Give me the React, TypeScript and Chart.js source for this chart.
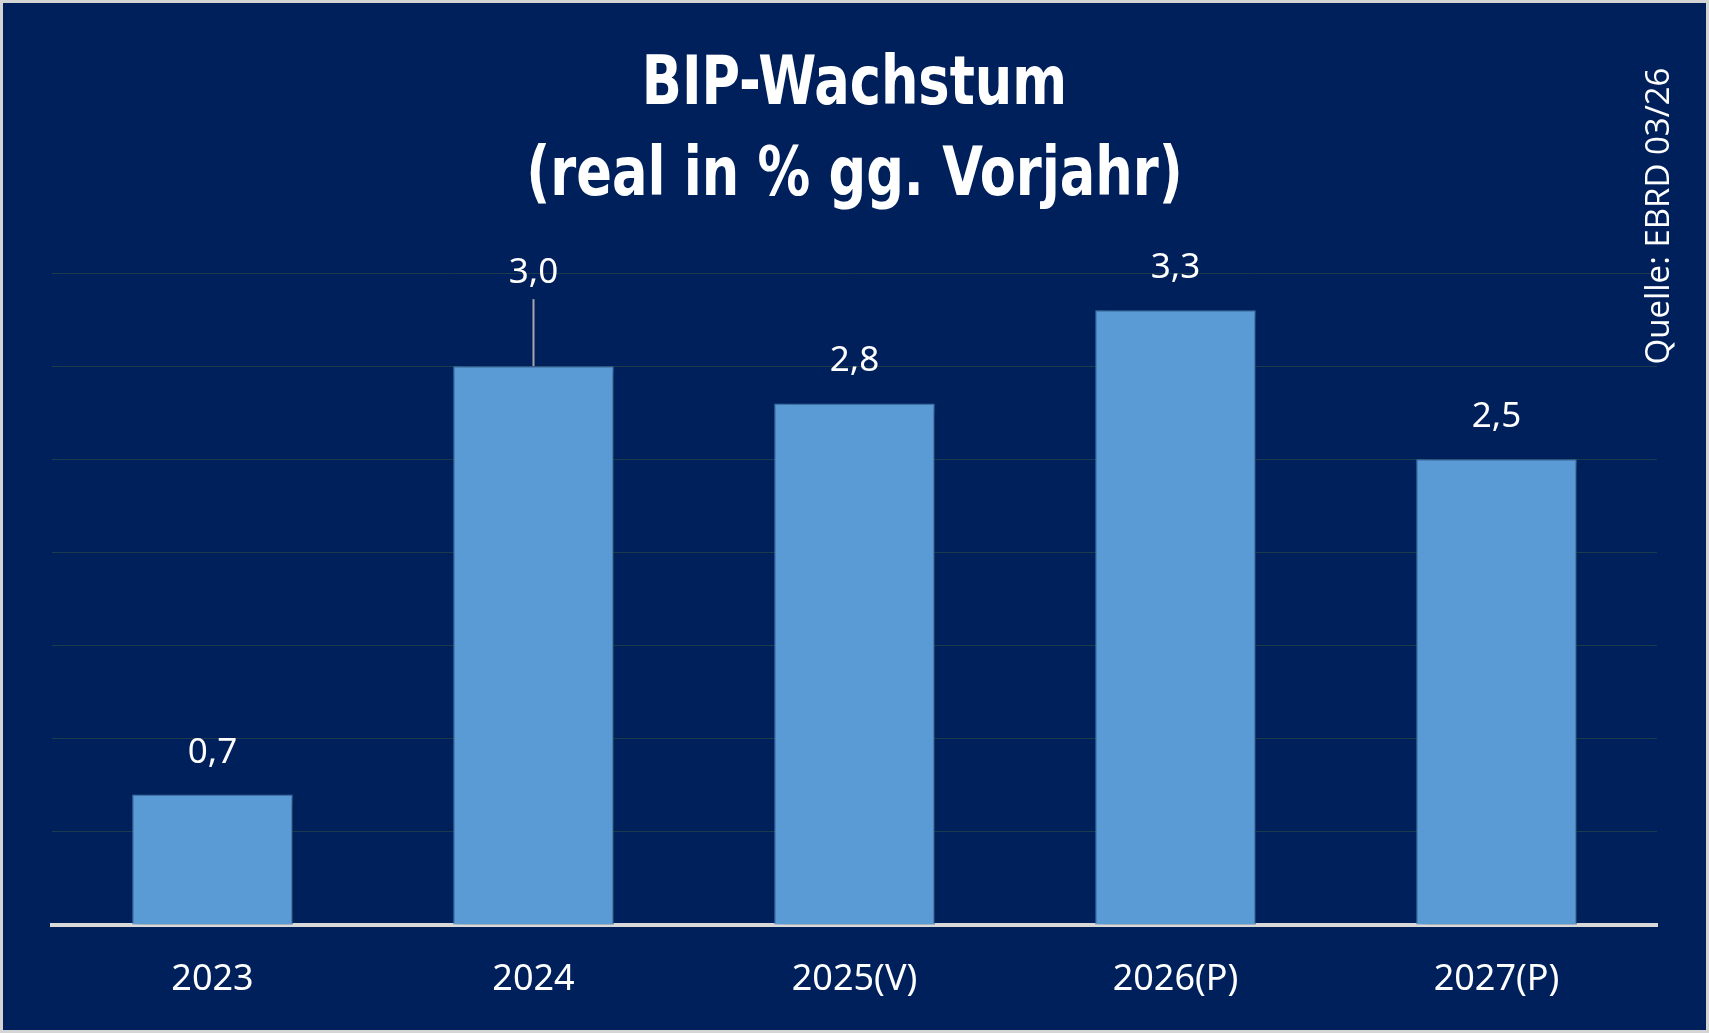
import React, { useEffect, useRef } from "react";
import { Chart, registerables } from "chart.js";

Chart.register(...registerables);

// ---- data ----
const categories = ["2023", "2024", "2025(V)", "2026(P)", "2027(P)"];
const growth = [0.7, 3.0, 2.8, 3.3, 2.5];
const titleLines = ["BIP-Wachstum", "(real in % gg. Vorjahr)"];
const sourceNote = "Quelle: EBRD 03/26";
const yMin = 0;
const yMax = 3.5;
const yStep = 0.5;

// ---- style ----
const W = 1709;
const H = 1033;
const BG = "#00205C";
const BAR = "#5B9BD5";
const GRID = "#1b3a4c";
const BASE = "#D9D9D9";
const LEADER_INDEX = 1;

const fmt = (v: number) => v.toFixed(1).replace(".", ",");

const decorPlugin = {
  id: "decor",
  beforeDraw(chart: any) {
    const ctx = chart.ctx;
    ctx.save();
    ctx.fillStyle = BG;
    ctx.fillRect(0, 0, W, H);
    ctx.restore();
  },
  beforeDatasetsDraw(chart: any) {
    const ctx = chart.ctx;
    ctx.save();
    ctx.shadowColor = "rgba(0,0,0,0.5)";
    ctx.shadowBlur = 12;
    ctx.shadowOffsetX = 5;
    ctx.shadowOffsetY = 2;
  },
  afterDatasetsDraw(chart: any) {
    const ctx = chart.ctx;
    ctx.restore();
    // value labels
    const meta = chart.getDatasetMeta(0);
    ctx.save();
    ctx.fillStyle = "#FFFFFF";
    ctx.font = "35px 'Noto Sans'";
    ctx.textAlign = "center";
    ctx.textBaseline = "middle";
    meta.data.forEach((bar: any, i: number) => {
      const v = growth[i];
      if (i === LEADER_INDEX) {
        ctx.fillText(fmt(v), bar.x, bar.y - 93);
        ctx.strokeStyle = "#A6A6A6";
        ctx.lineWidth = 2;
        ctx.beginPath();
        ctx.moveTo(bar.x, bar.y - 67);
        ctx.lineTo(bar.x, bar.y);
        ctx.stroke();
      } else {
        ctx.fillText(fmt(v), bar.x, bar.y - 42);
      }
    });
    ctx.restore();
  },
  afterDraw(chart: any) {
    const ctx = chart.ctx;
    ctx.save();
    // title (condensed heavy face imitated by horizontal compression)
    ctx.fillStyle = "#FFFFFF";
    ctx.textAlign = "center";
    ctx.textBaseline = "alphabetic";
    ctx.font = "bold 68px 'DejaVu Sans Condensed', 'DejaVu Sans', sans-serif";
    const sx = 0.86;
    ctx.save();
    ctx.translate(W / 2, 0);
    ctx.scale(sx, 1);
    ctx.fillText(titleLines[0], 0, 104);
    ctx.fillText(titleLines[1], 0, 195);
    ctx.restore();
    // source note
    ctx.translate(1660, 216);
    ctx.rotate(-Math.PI / 2);
    ctx.font = "33px 'Open Sans'";
    ctx.textBaseline = "middle";
    ctx.fillText(sourceNote, 0, 0);
    ctx.restore();
    // frame
    ctx.save();
    ctx.fillStyle = "#D4D4D4";
    ctx.fillRect(0, 0, W, 3);
    ctx.fillRect(0, H - 3, W, 3);
    ctx.fillRect(0, 0, 3, H);
    ctx.fillRect(W - 3, 0, 3, H);
    ctx.restore();
  },
};

export default function App() {
  const ref = useRef<HTMLCanvasElement | null>(null);

  useEffect(() => {
    document.body.style.margin = "0";
    document.body.style.overflow = "hidden";
    const canvas = ref.current;
    if (!canvas) return;
    const chart = new Chart(canvas, {
      type: "bar",
      data: {
        labels: categories,
        datasets: [
          {
            data: growth,
            backgroundColor: BAR,
            borderColor: "#4A86C2",
            borderWidth: 1,
            barPercentage: 0.5,
            categoryPercentage: 1.0,
          },
        ],
      },
      options: {
        responsive: false,
        animation: false,
        devicePixelRatio: 1,
        layout: { padding: { left: 52, right: 52, top: 273, bottom: 0 } },
        plugins: {
          legend: { display: false },
          tooltip: { enabled: false },
          title: { display: false },
        },
        scales: {
          x: {
            grid: { display: false, drawTicks: false },
            border: { display: true, color: BASE, width: 4 },
            ticks: {
              color: "#FFFFFF",
              font: { family: "'Noto Sans'", size: 36 },
              padding: 33,
              maxRotation: 0,
            },
            afterFit: (scale: any) => {
              scale.height = 108;
            },
          },
          y: {
            min: yMin,
            max: yMax,
            ticks: { display: false, stepSize: yStep },
            grid: { color: GRID, lineWidth: 1, drawTicks: false },
            border: { display: false },
            afterFit: (scale: any) => {
              scale.width = 0;
            },
          },
        },
      },
      plugins: [decorPlugin],
    });
    return () => chart.destroy();
  }, []);

  return (
    <div style={{ width: W, height: H }}>
      <canvas ref={ref} width={W} height={H} style={{ display: "block", width: W, height: H }} />
    </div>
  );
}
